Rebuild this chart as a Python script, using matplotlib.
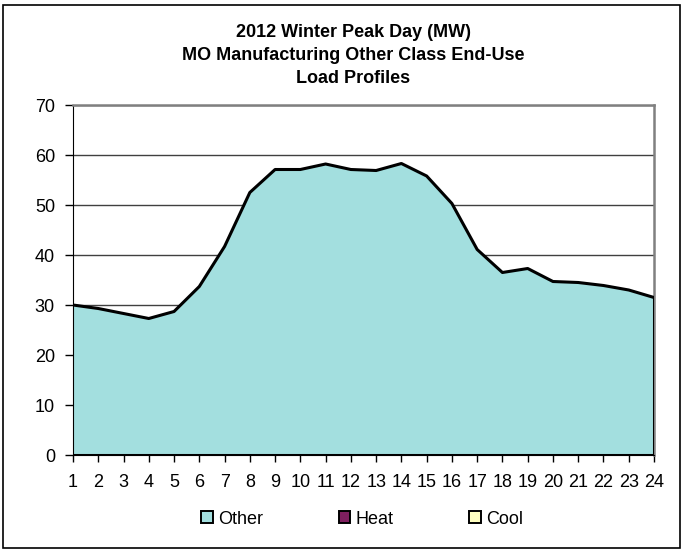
import matplotlib
matplotlib.use("Agg")
import matplotlib.pyplot as plt
import numpy as np
from matplotlib.patches import Patch, Rectangle

plt.rcParams['font.family'] = ['Liberation Sans', 'DejaVu Sans']

hours = list(range(1, 25))
other = [30.0, 29.3, 28.3, 27.3, 28.7, 33.7, 41.7, 52.5, 57.1, 57.1, 58.2, 57.1,
         56.9, 58.3, 55.8, 50.3, 41.1, 36.5, 37.3, 34.7, 34.5, 33.9, 33.0, 31.5]
heat = [0.0] * 24
cool = [0.0] * 24
series_names = ["Other", "Heat", "Cool"]
colors = ["#a3dfdf", "#7f1f5f", "#ffffc0"]
title_lines = ["2012 Winter Peak Day (MW)", "MO Manufacturing Other Class End-Use", "Load Profiles"]

fig = plt.figure(figsize=(6.91, 5.5), dpi=100)
W, H = 691, 550
ax = fig.add_axes([73 / W, 1 - 455 / H, (654 - 73) / W, (455 - 105) / H])

x = np.array(hours)
base = np.zeros(24)
for vals, c in zip([other, heat, cool], colors):
    top = base + np.array(vals)
    ax.fill_between(x, base, top, facecolor=c, edgecolor='none', zorder=2)
    base = top
ax.plot(x, base, color='black', lw=2.2, zorder=4, solid_joinstyle='round')
ax.plot([x[-1], x[-1]], [0, base[-1]], color='black', lw=2.2, zorder=4)
ax.plot([x[0], x[-1]], [0, 0], color='black', lw=2.2, zorder=4)

ax.set_xlim(1, 24)
ax.set_ylim(0, 70)
ax.set_yticks(range(0, 71, 10))
ax.set_xticks(hours)
ax.set_xticklabels([str(h) for h in hours])
ax.yaxis.grid(True, color='#404040', lw=1)
ax.set_axisbelow(True)
for s in ['top', 'right']:
    ax.spines[s].set_color('#808080')
    ax.spines[s].set_linewidth(1.8)
ax.spines['left'].set_color('black')
ax.spines['bottom'].set_color('black')
ax.tick_params(axis='both', direction='out', labelsize=13, colors='black', width=1)
ax.tick_params(axis='x', length=5, pad=9)
ax.tick_params(axis='y', length=6, pad=7)

for i, t in enumerate(title_lines):
    fig.text(353 / W, 1 - (37 + 23 * i) / H, t, ha='center', va='baseline',
             fontsize=13, fontweight='bold')

handles = [Patch(facecolor=c, edgecolor='black', lw=1.4) for c in colors]
fig.legend(handles, series_names, loc='center left', bbox_to_anchor=(201 / W, 1 - 519 / H),
           ncol=3, frameon=False, fontsize=13, handlelength=0.65, handleheight=0.65,
           handletextpad=0.28, columnspacing=4.2, borderpad=0, borderaxespad=0)

fig.patches.append(Rectangle((3 / W, 2 / H), (680 - 3) / W, (545 - 2) / H,
                             transform=fig.transFigure, fill=False, edgecolor='black', lw=1.2))

fig.savefig("out.png", dpi=100)
